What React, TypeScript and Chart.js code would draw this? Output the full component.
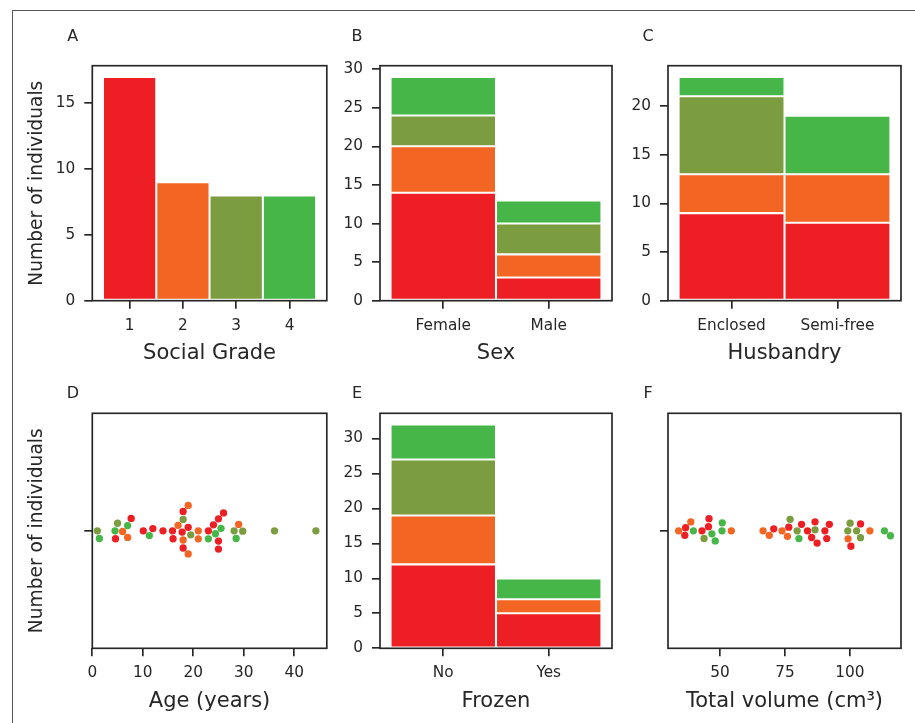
import React, { useEffect, useRef } from "react";
import { Chart, registerables } from "chart.js";
Chart.register(...registerables);

// ---------------- data ----------------
const gradeColors = ["#ED1F24", "#F26522", "#7B9C3F", "#46B649"];

const socialGradeLabels = ["1", "2", "3", "4"];
const socialGradeCounts = [17, 9, 8, 8];

const sexLabels = ["Female", "Male"];
const sexGrade1 = [14, 3];
const sexGrade2 = [6, 3];
const sexGrade3 = [4, 4];
const sexGrade4 = [5, 3];

const husbandryLabels = ["Enclosed", "Semi-free"];
const husbandryGrade1 = [9, 8];
const husbandryGrade2 = [4, 5];
const husbandryGrade3 = [8, 0];
const husbandryGrade4 = [2, 6];

const frozenLabels = ["No", "Yes"];
const frozenGrade1 = [12, 5];
const frozenGrade2 = [7, 2];
const frozenGrade3 = [8, 0];
const frozenGrade4 = [5, 3];

const ageYears = [
  1.0, 1.4, 4.5, 4.6, 5.0, 6.0, 7.0, 7.0, 7.7, 10.1, 11.3, 12.0, 14.0, 15.9,
  16.0, 17.0, 17.8, 18.0, 18.0, 18.0, 18.0, 19.0, 19.0, 19.0, 19.5, 21.0,
  21.0, 23.0, 23.0, 24.0, 24.4, 25.0, 25.0, 25.0, 25.5, 26.0, 28.1, 28.5,
  29.0, 29.8, 36.1, 44.3,
];
const ageGrade = [
  3, 4, 4, 1, 3, 2, 4, 2, 1, 1, 4, 1, 1, 1, 1, 2, 1, 2, 3, 1, 1, 1, 2, 2, 3, 2,
  2, 1, 4, 1, 4, 1, 1, 1, 4, 1, 3, 4, 2, 3, 3, 3,
];
const ageTicks = [0, 10, 20, 30, 40];

const volumeCm3 = [
  34.1, 36.5, 36.8, 38.8, 39.8, 43.1, 43.9, 45.6, 45.8, 46.9, 48.2, 50.8,
  50.9, 54.4, 66.6, 69.0, 70.7, 73.9, 76.0, 76.5, 77.0, 79.7, 80.4, 81.4,
  83.7, 85.3, 86.6, 86.6, 87.4, 90.4, 91.1, 92.1, 99.2, 99.3, 100.1, 100.4,
  102.6, 104.1, 104.1, 107.7, 113.3, 115.6,
];
const volumeGrade = [
  2, 1, 1, 2, 4, 1, 3, 1, 1, 4, 4, 4, 4, 2, 2, 2, 1, 2, 2, 1, 3, 3, 4, 1, 1,
  1, 3, 1, 1, 1, 1, 1, 3, 2, 3, 1, 3, 3, 1, 2, 4, 4,
];
const volumeTicks = [50, 75, 100];

const countTicksA = [0, 5, 10, 15];
const countTicksB = [0, 5, 10, 15, 20, 25, 30];
const countTicksC = [0, 5, 10, 15, 20];
const countTicksE = [0, 5, 10, 15, 20, 25, 30];

// ---------------- styling / layout ----------------
const TXT = "#262626";
const FONT = "DejaVu Sans";
const TICK_SIZE = 15.3;
const XTITLE_SIZE = 21;
const YTITLE_SIZE = 18.67;
const LW = 1.67;
const TICK_LEN = 8;
const BOTTOM_H = 70;
const RIGHT_PAD = 12;
const TOP_SPACE = 40;
const POINT_R = 3.65;
const SWARM_R = 3.8;

const COLS = [
  { left: 92.3, width: 234.5, leftW: 80.3, letterDx: -19.5 },
  { left: 380, width: 232, leftW: 45, letterDx: -23 },
  { left: 668, width: 233, leftW: 45, letterDx: -20 },
];
const ROWS = [
  { top: 65.7, height: 235, letterDy: -29 },
  { top: 413.3, height: 235, letterDy: -19.5 },
];

Chart.defaults.font.family = FONT;

function swarmOffsets(px: number[], r: number): number[] {
  const order = px.map((_, i) => i).sort((a, b) => px[a] - px[b]);
  const placed: { v: number; o: number }[] = [];
  const out: number[] = new Array(px.length).fill(0);
  const d2 = (2 * r) * (2 * r);
  for (const idx of order) {
    const v = px[idx];
    const neighbors: { v: number; o: number }[] = [];
    for (let j = placed.length - 1; j >= 0; j--) {
      if (v - placed[j].v < 2 * r) neighbors.push(placed[j]);
      else break;
    }
    const cands: number[] = [0];
    let leftFirst = true;
    for (const nb of neighbors) {
      const dv = v - nb.v;
      const dx = Math.sqrt(Math.max(d2 - dv * dv, 0)) * 1.05;
      const cl = nb.o - dx;
      const cr = nb.o + dx;
      if (leftFirst) cands.push(cl, cr);
      else cands.push(cr, cl);
      leftFirst = !leftFirst;
    }
    const sorted = cands
      .map((c, k) => ({ c, k }))
      .sort((a, b) => Math.abs(a.c) - Math.abs(b.c) || a.k - b.k)
      .map((o) => o.c);
    let chosen = sorted[0];
    if (neighbors.length) {
      for (const c of sorted) {
        if (neighbors.every((nb) => (nb.v - v) ** 2 + (nb.o - c) ** 2 >= d2 - 1e-6)) {
          chosen = c;
          break;
        }
      }
    }
    placed.push({ v, o: chosen });
    out[idx] = chosen;
  }
  return out;
}

const framePlugin = {
  id: "frame",
  afterDatasetsDraw(chart: any) {
    const { ctx, chartArea: a } = chart;
    ctx.save();
    ctx.strokeStyle = TXT;
    ctx.lineWidth = LW;
    ctx.strokeRect(a.left, a.top, a.right - a.left, a.bottom - a.top);
    ctx.restore();
  },
  afterDraw(chart: any, _args: any, opts: any) {
    if (!opts || !opts.letter) return;
    const { ctx, chartArea: a } = chart;
    ctx.save();
    ctx.fillStyle = TXT;
    ctx.font = `16px "${FONT}"`;
    ctx.textAlign = "center";
    ctx.textBaseline = "middle";
    ctx.fillText(opts.letter, a.left + opts.dx, a.top + opts.dy);
    ctx.restore();
  },
};

function gridOpts() {
  return {
    display: true,
    offset: false,
    drawOnChartArea: false,
    drawTicks: true,
    tickLength: TICK_LEN,
    lineWidth: LW,
    tickWidth: LW,
    tickColor: TXT,
    color: TXT,
  };
}

function xScale(min: number, max: number, ticks: number[], label: (v: number) => string, title: string) {
  return {
    type: "linear",
    position: "bottom",
    min,
    max,
    stacked: true,
    offset: false,
    afterBuildTicks: (s: any) => {
      s.ticks = ticks.map((v) => ({ value: v }));
    },
    afterFit: (s: any) => {
      s.height = BOTTOM_H;
    },
    ticks: {
      callback: (v: any) => label(Number(v)),
      color: TXT,
      font: { family: FONT, size: TICK_SIZE },
      padding: 8,
      maxRotation: 0,
      minRotation: 0,
      autoSkip: false,
    },
    grid: gridOpts(),
    border: { display: false },
    title: {
      display: true,
      text: title,
      color: TXT,
      font: { family: FONT, size: XTITLE_SIZE },
      padding: { top: 0, bottom: 4.5 },
    },
  };
}

function yScale(min: number, max: number, ticks: number[], label: (v: number) => string, leftW: number, withTitle: boolean) {
  return {
    type: "linear",
    position: "left",
    min,
    max,
    stacked: true,
    afterBuildTicks: (s: any) => {
      s.ticks = ticks.map((v) => ({ value: v }));
    },
    afterFit: (s: any) => {
      s.width = leftW;
    },
    ticks: {
      callback: (v: any) => label(Number(v)),
      color: TXT,
      font: { family: FONT, size: TICK_SIZE },
      padding: 9,
      autoSkip: false,
    },
    grid: gridOpts(),
    border: { display: false },
    title: {
      display: withTitle,
      text: "Number of individuals",
      color: TXT,
      font: { family: FONT, size: YTITLE_SIZE },
      padding: { top: 13.5, bottom: 0 },
    },
  };
}

type PanelSpec = {
  letter: string;
  col: number;
  row: number;
  build: (leftW: number, withTitle: boolean) => any;
  swarm?: { values: number[] };
};

function stackedBarBuild(labels: string[], stacks: number[][], yTicks: number[], title: string) {
  return (leftW: number, withTitle: boolean) => {
    const totals = labels.map((_, i) => stacks.reduce((s, st) => s + st[i], 0));
    const yMax = Math.max(...totals) * 1.05;
    const n = labels.length;
    return {
      type: "bar",
      data: {
        datasets: stacks.map((st, g) => ({
          data: st.map((c, i) => ({ x: i, y: c })),
          backgroundColor: gradeColors[g],
        })),
      },
      scales: {
        x: xScale(-0.5 - 0.05 * n, n - 0.5 + 0.05 * n, labels.map((_, i) => i), (v) => labels[Math.round(v)] ?? "", title),
        y: yScale(0, yMax, yTicks, (v) => String(v), leftW, withTitle),
      },
    };
  };
}

function swarmBuild(values: number[], grades: number[], xmin: number | null, ticks: number[], title: string) {
  return (leftW: number, withTitle: boolean) => {
    const lo = Math.min(...values);
    const hi = Math.max(...values);
    const m = (hi - lo) * 0.05;
    return {
      type: "scatter",
      data: {
        datasets: [
          {
            data: values.map((v) => ({ x: v, y: 0 })),
            pointBackgroundColor: grades.map((g) => gradeColors[g - 1]),
            pointBorderWidth: 0,
            pointRadius: POINT_R,
            pointHoverRadius: POINT_R,
          },
        ],
      },
      scales: {
        x: xScale(xmin === null ? lo - m : xmin, hi + m, ticks, (v) => String(v), title),
        y: yScale(-0.5, 0.5, [0], () => "", leftW, withTitle),
      },
    };
  };
}

const panels: PanelSpec[] = [
  {
    letter: "A",
    col: 0,
    row: 0,
    build: (leftW, withTitle) => ({
      type: "bar",
      data: {
        datasets: [
          {
            data: socialGradeCounts.map((c, i) => ({ x: i + 1, y: c })),
            backgroundColor: gradeColors,
          },
        ],
      },
      scales: {
        x: xScale(0.3, 4.7, socialGradeLabels.map((_, i) => i + 1), (v) => socialGradeLabels[Math.round(v) - 1] ?? "", "Social Grade"),
        y: yScale(0, Math.max(...socialGradeCounts) * 1.05, countTicksA, (v) => String(v), leftW, withTitle),
      },
    }),
  },
  {
    letter: "B",
    col: 1,
    row: 0,
    build: stackedBarBuild(sexLabels, [sexGrade1, sexGrade2, sexGrade3, sexGrade4], countTicksB, "Sex"),
  },
  {
    letter: "C",
    col: 2,
    row: 0,
    build: stackedBarBuild(husbandryLabels, [husbandryGrade1, husbandryGrade2, husbandryGrade3, husbandryGrade4], countTicksC, "Husbandry"),
  },
  {
    letter: "D",
    col: 0,
    row: 1,
    build: swarmBuild(ageYears, ageGrade, 0, ageTicks, "Age (years)"),
    swarm: { values: ageYears },
  },
  {
    letter: "E",
    col: 1,
    row: 1,
    build: stackedBarBuild(frozenLabels, [frozenGrade1, frozenGrade2, frozenGrade3, frozenGrade4], countTicksE, "Frozen"),
  },
  {
    letter: "F",
    col: 2,
    row: 1,
    build: swarmBuild(volumeCm3, volumeGrade, null, volumeTicks, "Total volume (cm³)"),
    swarm: { values: volumeCm3 },
  },
];

function Panel({ spec }: { spec: PanelSpec }) {
  const ref = useRef<HTMLCanvasElement | null>(null);
  const col = COLS[spec.col];
  const row = ROWS[spec.row];
  const canvasLeft = Math.floor(col.left - col.leftW);
  const leftW = col.left - canvasLeft;
  const canvasTop = Math.floor(row.top - TOP_SPACE);
  const topPad = row.top - canvasTop;
  const W = Math.ceil(leftW + col.width + RIGHT_PAD);
  const H = Math.ceil(topPad + row.height + BOTTOM_H);
  const rightPad = W - leftW - col.width;
  const bottomH = H - topPad - row.height;

  useEffect(() => {
    if (!ref.current) return;
    const built = spec.build(leftW, spec.col === 0);
    built.scales.x.afterFit = (s: any) => {
      s.height = bottomH;
    };
    const chart = new Chart(ref.current, {
      type: built.type,
      data: built.data,
      options: {
        responsive: false,
        animation: false,
        devicePixelRatio: 1,
        layout: { padding: { top: topPad, right: rightPad, left: 0, bottom: 0 } },
        datasets: {
          bar: {
            barPercentage: 1,
            categoryPercentage: 1,
            borderColor: "#ffffff",
            borderWidth: 1.35,
            borderSkipped: false,
          },
        },
        plugins: {
          legend: { display: false },
          tooltip: { enabled: false },
          frame: { letter: spec.letter, dx: col.letterDx, dy: row.letterDy },
        },
        events: [],
        scales: built.scales,
      } as any,
      plugins: [framePlugin as any],
    } as any);

    if (spec.swarm) {
      const xs = chart.scales.x;
      const ys = chart.scales.y;
      const px = spec.swarm.values.map((v) => xs.getPixelForValue(v));
      const offs = swarmOffsets(px, SWARM_R);
      const y0 = ys.getPixelForValue(0);
      (chart.data.datasets[0] as any).data = spec.swarm.values.map((v, i) => ({
        x: v,
        y: ys.getValueForPixel(y0 - offs[i]),
      }));
      chart.update();
    }
    return () => chart.destroy();
  }, []);

  return (
    <canvas
      ref={ref}
      width={W}
      height={H}
      style={{ position: "absolute", left: canvasLeft, top: canvasTop, width: W, height: H }}
    />
  );
}

export default function App() {
  return (
    <div style={{ position: "absolute", left: 0, top: 0, width: 915, height: 723, overflow: "hidden", background: "#fff" }}>
      <div
        style={{
          position: "absolute",
          left: 12,
          top: 10,
          width: 1000,
          height: 1000,
          borderTop: "1px solid #555",
          borderLeft: "1px solid #555",
        }}
      />
      {panels.map((p) => (
        <Panel key={p.letter} spec={p} />
      ))}
    </div>
  );
}
